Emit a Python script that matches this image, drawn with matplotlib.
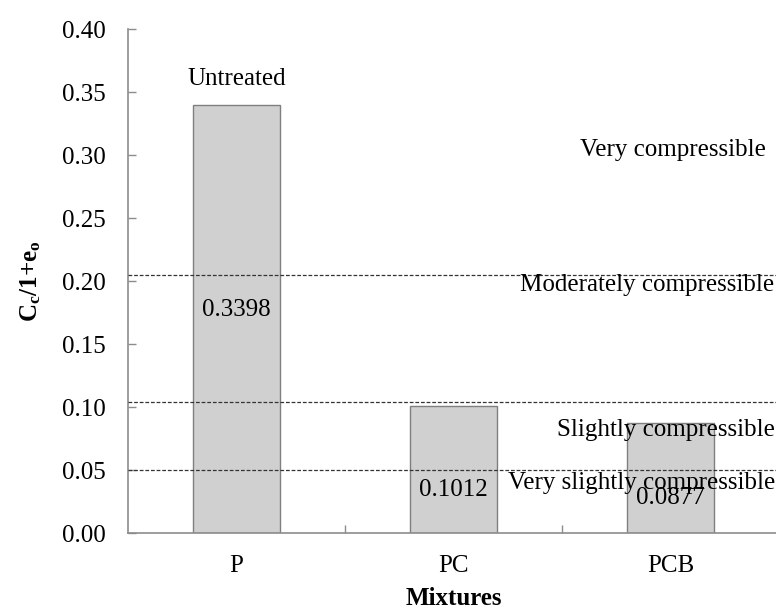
import numpy as np
import matplotlib
matplotlib.use("Agg")
from matplotlib import pyplot as plt

# data
mixtures = ["P", "PC", "PCB"]
values = [0.3398, 0.1012, 0.0877]
value_labels = ["0.3398", "0.1012", "0.0877"]
limits = [0.205, 0.104, 0.050]   # dashed class boundaries
classes = ["Very compressible", "Moderately compressible",
           "Slightly compressible", "Very slightly compressible"]
yticks = [0.00, 0.05, 0.10, 0.15, 0.20, 0.25, 0.30, 0.35, 0.40]

plt.rcParams['font.family'] = ['Liberation Serif', 'DejaVu Serif']
plt.rcParams['mathtext.fontset'] = 'custom'
plt.rcParams['mathtext.rm'] = 'Liberation Serif'
plt.rcParams['mathtext.it'] = 'Liberation Serif:italic'
plt.rcParams['mathtext.bf'] = 'Liberation Serif:bold'

fig = plt.figure(figsize=(7.76, 6.12), dpi=100)
ax = fig.add_axes([0.165, 0.129, 0.839, 0.8235])

grey = '#8c8c8c'
x = np.arange(len(mixtures))
ax.bar(x, values, width=0.4, color='#d0d0d0', edgecolor='#7f7f7f', linewidth=1.0, zorder=2)

for lim in limits:
    ax.axhline(lim, color='#333333', linewidth=0.9, linestyle=(0, (3, 1.5)), zorder=3)

ax.set_xlim(-0.5, 2.5)
ax.set_ylim(0, 0.40)
ax.set_yticks(yticks)
ax.set_yticklabels([f"{t:.2f}" for t in yticks])
ax.set_xticks(x)
ax.set_xticklabels(mixtures)
ax.set_xticks([0.5, 1.5], minor=True)

ax.tick_params(axis='y', direction='in', length=6, width=1, color=grey, labelsize=18, pad=16)
ax.tick_params(axis='x', which='major', length=0, labelsize=18, pad=16)
ax.tick_params(axis='x', which='minor', direction='in', length=6, width=1, color=grey)

for side in ['top', 'right']:
    ax.spines[side].set_visible(False)
for side in ['left', 'bottom']:
    ax.spines[side].set_color(grey)
    ax.spines[side].set_linewidth(1.2)

ax.set_ylabel(r'$\mathbf{C_c/1{+}e_o}$', fontsize=18, va='center')
ax.yaxis.set_label_coords(-0.15, 0.5)
ax.set_xlabel('Mixtures', fontsize=18, fontweight='bold', va='center')
ax.xaxis.set_label_coords(0.5, -0.129)

# annotations
ax.text(0, 0.36, 'Untreated', ha='center', va='center', fontsize=18, zorder=4)
ax.text(0, 0.177, value_labels[0], ha='center', va='center', fontsize=18, zorder=4)
ax.text(1, 0.034, value_labels[1], ha='center', va='center', fontsize=18, zorder=4)
ax.text(2, 0.028, value_labels[2], ha='center', va='center', fontsize=18, zorder=4)

ax.text(1.583, 0.304, classes[0], ha='left', va='center', fontsize=18, zorder=4)
ax.text(1.306, 0.197, classes[1], ha='left', va='center', fontsize=18, zorder=4)
ax.text(1.477, 0.082, classes[2], ha='left', va='center', fontsize=18, zorder=4)
ax.text(1.251, 0.040, classes[3], ha='left', va='center', fontsize=18, zorder=4)

fig.savefig('out.png', dpi=100)
